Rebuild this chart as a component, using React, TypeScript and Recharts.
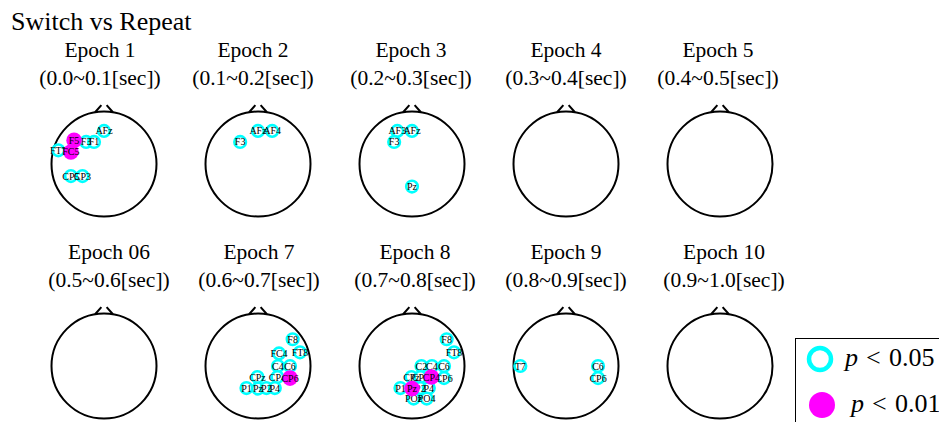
import React from 'react';
import { ScatterChart, Scatter, XAxis, YAxis } from 'recharts';

// electrode layout (head radius = 1, y up)
const channelNames = ['AF3', 'AFz', 'AF4', 'F1', 'F3', 'F5', 'F8', 'FT7', 'FC5', 'FC4', 'FT8', 'T7', 'C2', 'C4', 'C6', 'CP5', 'CP3', 'CPz', 'CP2', 'CP4', 'CP6', 'P1', 'Pz', 'P2', 'P4', 'POz', 'PO4'];
const channelX = [-0.28, 0, 0.27, -0.19, -0.34, -0.57, 0.66, -0.87, -0.63, 0.4, 0.8, -0.87, 0.18, 0.38, 0.61, -0.63, -0.41, -0.01, 0.16, 0.37, 0.61, -0.22, 0, 0.16, 0.32, 0.03, 0.28];
const channelY = [0.63, 0.63, 0.63, 0.42, 0.42, 0.45, 0.51, 0.26, 0.23, 0.24, 0.26, 0, 0, 0, 0, -0.23, -0.23, -0.21, -0.21, -0.21, -0.23, -0.42, -0.43, -0.42, -0.42, -0.62, -0.62];

const epochLabels = ['Epoch 1', 'Epoch 2', 'Epoch 3', 'Epoch 4', 'Epoch 5', 'Epoch 06', 'Epoch 7', 'Epoch 8', 'Epoch 9', 'Epoch 10'];
const epochWindows = ['(0.0~0.1[sec])', '(0.1~0.2[sec])', '(0.2~0.3[sec])', '(0.3~0.4[sec])', '(0.4~0.5[sec])', '(0.5~0.6[sec])', '(0.6~0.7[sec])', '(0.7~0.8[sec])', '(0.8~0.9[sec])', '(0.9~1.0[sec])'];

// significant channels per epoch
const sigP05 = [
    ['FT7', 'F3', 'F1', 'AFz', 'CP5', 'CP3'],
    ['F3', 'AFz', 'AF4'],
    ['AF3', 'AFz', 'F3', 'Pz'],
    [],
    [],
    [],
    ['F8', 'FT8', 'FC4', 'C4', 'C6', 'CPz', 'CP4', 'P1', 'Pz', 'P2', 'P4'],
    ['F8', 'FT8', 'C2', 'C4', 'C6', 'CPz', 'CP2', 'CP6', 'P1', 'P2', 'P4', 'POz', 'PO4'],
    ['T7', 'C6', 'CP6'],
    [],
];
const sigP01 = [
    ['F5', 'FC5'],
    [],
    [],
    [],
    [],
    [],
    ['CP6'],
    ['CP4', 'Pz'],
    [],
    [],
];

const HEAD_R = 52.5;
const CHART = 150;
const HEAD_CX = [104, 258, 412, 566, 720];
const HEAD_CY = [164, 366];
const TITLE_CX = [
    [100, 253, 411, 566, 718],
    [109, 259, 415, 566, 724],
];
const TITLE_Y = [57, 259];

const SERIF = '"Liberation Serif", "Times New Roman", serif';
const CYAN = '#00FFFF';
const MAGENTA = '#FF00FF';

const toPoints = (names: string[]) =>
    names.map((name) => {
        const i = channelNames.indexOf(name);
        return { name, x: channelX[i], y: channelY[i] };
    });

const HeadShape = (props: any) => {
    const { cx, cy } = props;
    const r = HEAD_R;
    return (
        <g>
            <circle cx={cx} cy={cy} r={r} fill="none" stroke="#000" strokeWidth={2} />
            <path
                d={`M${cx - 0.17 * r},${cy - 0.985 * r} L${cx - 0.05 * r},${cy - 1.12 * r} M${cx + 0.17 * r},${cy - 0.985 * r} L${cx + 0.05 * r},${cy - 1.12 * r}`}
                stroke="#000"
                strokeWidth={2}
                fill="none"
            />
        </g>
    );
};

const RingShape = (props: any) => (
    <circle cx={props.cx} cy={props.cy} r={5.8} fill="#fff" stroke={CYAN} strokeWidth={2.6} />
);

const DiscShape = (props: any) => (
    <circle cx={props.cx} cy={props.cy} r={7.8} fill={MAGENTA} />
);

const LabelShape = (props: any) => (
    <text
        x={props.cx}
        y={props.cy}
        dy="0.35em"
        textAnchor="middle"
        fontSize={10}
        fontFamily={SERIF}
        fill="#000"
    >
        {props.payload.name}
    </text>
);

function Head({ idx }: { idx: number }) {
    const col = idx % 5;
    const row = Math.floor(idx / 5);
    const half = CHART / 2 / HEAD_R;
    const p05 = toPoints(sigP05[idx]);
    const p01 = toPoints(sigP01[idx]);
    return (
        <div style={{ position: 'absolute', left: HEAD_CX[col] - CHART / 2, top: HEAD_CY[row] - CHART / 2 }}>
            <ScatterChart width={CHART} height={CHART} margin={{ top: 0, right: 0, bottom: 0, left: 0 }}>
                <XAxis type="number" dataKey="x" domain={[-half, half]} hide allowDataOverflow />
                <YAxis type="number" dataKey="y" domain={[-half, half]} hide allowDataOverflow />
                <Scatter data={[{ x: 0, y: 0 }]} shape={HeadShape} isAnimationActive={false} />
                <Scatter data={p05} shape={RingShape} isAnimationActive={false} />
                <Scatter data={p05} shape={LabelShape} isAnimationActive={false} />
                <Scatter data={p01} shape={DiscShape} isAnimationActive={false} />
                <Scatter data={p01} shape={LabelShape} isAnimationActive={false} />
            </ScatterChart>
        </div>
    );
}

export default function App() {
    return (
        <div
            style={{
                position: 'fixed',
                left: 0,
                top: 0,
                width: 939,
                height: 422,
                background: '#fff',
                overflow: 'hidden',
            }}
        >
            {epochLabels.map((_, i) => (
                <Head key={i} idx={i} />
            ))}
            <svg
                width={939}
                height={422}
                style={{ position: 'absolute', left: 0, top: 0, pointerEvents: 'none' }}
                fontFamily={SERIF}
            >
                <text x={11} y={30} fontSize={26} fill="#000">
                    Switch vs Repeat
                </text>
                {epochLabels.map((label, i) => {
                    const row = Math.floor(i / 5);
                    const col = i % 5;
                    const x = TITLE_CX[row][col];
                    return (
                        <g key={label}>
                            <text x={x} y={TITLE_Y[row]} fontSize={21.5} textAnchor="middle" fill="#000">
                                {label}
                            </text>
                            <text x={x} y={TITLE_Y[row] + 28} fontSize={21.5} textAnchor="middle" fill="#000">
                                {epochWindows[i]}
                            </text>
                        </g>
                    );
                })}
                {/* legend */}
                <rect x={795.5} y={338.5} width={200} height={120} fill="#fff" stroke="#000" strokeWidth={1} />
                <circle cx={820} cy={359} r={11} fill="#fff" stroke={CYAN} strokeWidth={4.5} />
                <circle cx={822} cy={405} r={13} fill={MAGENTA} />
                <text y={366} fontSize={26} fill="#000">
                    <tspan x={845} fontStyle="italic">p</tspan>
                    <tspan x={866}>&lt;</tspan>
                    <tspan x={889}>0.05</tspan>
                </text>
                <text y={412} fontSize={26} fill="#000">
                    <tspan x={851} fontStyle="italic">p</tspan>
                    <tspan x={872}>&lt;</tspan>
                    <tspan x={895}>0.01</tspan>
                </text>
            </svg>
        </div>
    );
}
